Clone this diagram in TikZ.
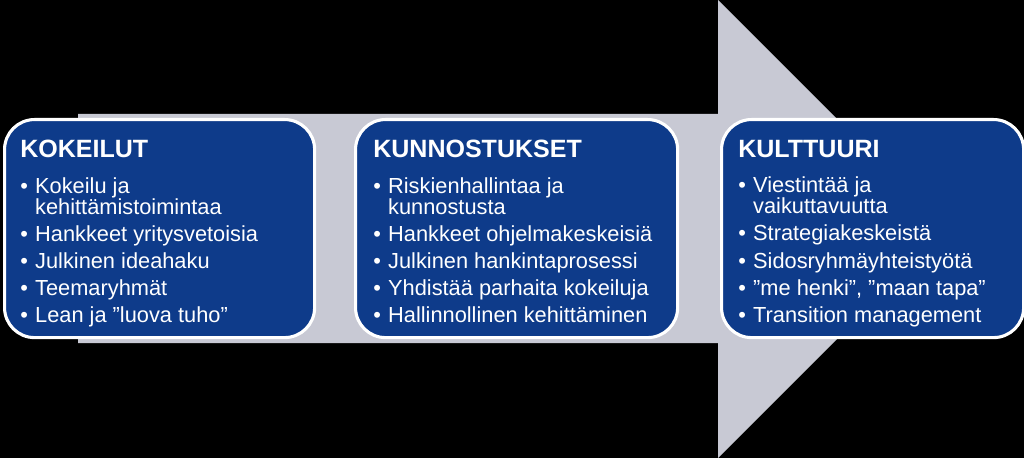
\documentclass[tikz,border=0pt]{standalone}
\usepackage{fontspec}
\setmainfont{Liberation Sans}
\usetikzlibrary{positioning}

\definecolor{stageblue}{HTML}{0E3B8A}
\definecolor{arrowgrey}{HTML}{C8C9D4}

\newcommand{\bul}{\makebox[10.6pt][l]{\textbullet}}
\newcommand{\cnt}{\hspace{10.6pt}}
\newcommand{\stagehead}[1]{{\fontsize{17.8}{24}\bfseries #1}}

\begin{document}
\begin{tikzpicture}[x=0.025cm,y=-0.025cm]
    \tikzstyle{stage}=[draw=white,line width=2.2pt,fill=stageblue,rounded corners=0.75cm,minimum width=7.75cm,minimum height=5.45cm,inner sep=0pt,anchor=north west]
    \tikzstyle{stagetext}=[text=white,align=left,inner sep=0pt,anchor=north west,font=\fontsize{15.5}{14.9}\selectfont]

    % background and big arrow
    \useasboundingbox (0,0) rectangle (1024,458);
    \fill[black] (0,0) rectangle (1024,458);
    \fill[arrowgrey] (78,114) -- (718,114) -- (718,0) -- (947,229) -- (718,458) -- (718,343) -- (78,343) -- cycle;

    \foreach \name/\x/\w in {kok/3/7.75cm, kun/354/8.05cm, kul/720/7.55cm}
        \node[stage,minimum width=\w] (\name) at (\x,118) {};

    \node[stagetext] (kok-text) at (20,140) {\stagehead{KOKEILUT}\\[10.2pt]
        \bul Kokeilu ja\\
        \cnt kehittämistoimintaa\\[4.4pt]
        \bul Hankkeet yritysvetoisia\\[4.4pt]
        \bul Julkinen ideahaku\\[4.4pt]
        \bul Teemaryhmät\\[4.4pt]
        \bul Lean ja ”luova tuho”};

    \node[stagetext] (kun-text) at (373,140) {\stagehead{KUNNOSTUKSET}\\[10.2pt]
        \bul Riskienhallintaa ja\\
        \cnt kunnostusta\\[4.4pt]
        \bul Hankkeet ohjelmakeskeisiä\\[4.4pt]
        \bul Julkinen hankintaprosessi\\[4.4pt]
        \bul Yhdistää parhaita kokeiluja\\[4.4pt]
        \bul Hallinnollinen kehittäminen};

    \node[stagetext] (kul-text) at (738,140) {\stagehead{KULTTUURI}\\[10.2pt]
        \bul Viestintää ja\\
        \cnt vaikuttavuutta\\[4.4pt]
        \bul Strategiakeskeistä\\[4.4pt]
        \bul Sidosryhmäyhteistyötä\\[4.4pt]
        \bul ”me henki”, ”maan tapa”\\[4.4pt]
        \bul Transition management};
\end{tikzpicture}
\end{document}
